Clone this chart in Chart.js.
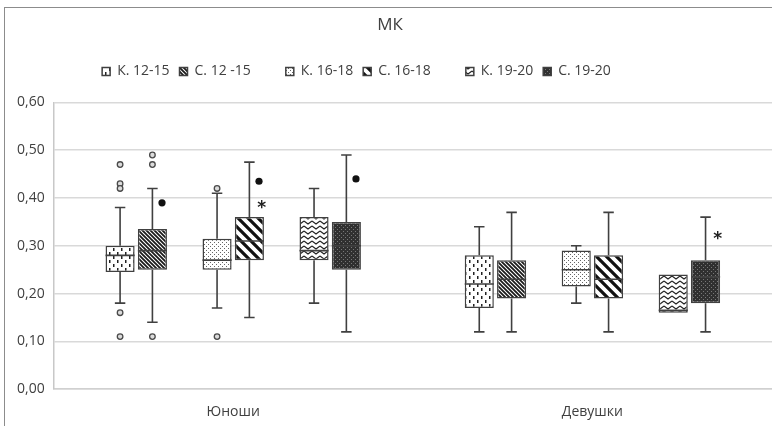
<!DOCTYPE html>
<html>
<head>
<meta charset="utf-8">
<script src="https://cdn.jsdelivr.net/npm/chart.js@4.4.1/dist/chart.umd.min.js"></script>
<style>
  html, body { margin: 0; padding: 0; background: #fff; }
  #wrap { position: relative; width: 772px; height: 426px; }
  #frame { position: absolute; left: 4px; top: 7px; right: 0; bottom: 0;
           border-left: 1px solid #8c8c8c; border-top: 1px solid #8c8c8c; }
  canvas { position: absolute; left: 0; top: 0; }
</style>
</head>
<body>
<div id="wrap">
  <div id="frame"></div>
  <canvas id="mkChart" width="772" height="426"></canvas>
</div>
<script>
const categories = ["Юноши", "Девушки"];
const seriesLabels = ["К. 12-15", "С. 12 -15", "К. 16-18", "С. 16-18", "К. 19-20", "С. 19-20"];

// one row per series, values for [Юноши, Девушки]
const whiskerLow  = [[0.18, 0.12], [0.14, 0.12], [0.17, 0.18], [0.15, 0.12], [0.18, 0.16], [0.12, 0.12]];
const boxLow      = [[0.245, 0.17], [0.25, 0.19], [0.25, 0.215], [0.27, 0.19], [0.27, 0.16], [0.25, 0.18]];
const medians     = [[0.28, 0.22], [0.29, 0.23], [0.27, 0.25], [0.31, 0.23], [0.29, 0.165], [0.30, 0.235]];
const boxHigh     = [[0.30, 0.28], [0.335, 0.27], [0.315, 0.29], [0.36, 0.28], [0.36, 0.24], [0.35, 0.27]];
const whiskerHigh = [[0.38, 0.34], [0.42, 0.37], [0.41, 0.30], [0.475, 0.37], [0.42, 0.24], [0.49, 0.36]];

const outliers = [
  [[0.47, 0.43, 0.42, 0.16, 0.11], []],
  [[0.49, 0.47, 0.11], []],
  [[0.42, 0.11], []],
  [[], []],
  [[], []],
  [[], []]
];
const dotMarks  = [[null, null], [0.39, null], [null, null], [0.435, null], [null, null], [0.44, null]];
const starMarks = [[null, null], [null, null], [null, null], [0.39, null], [null, null], [null, 0.325]];

const yMin = 0, yMax = 0.6, yStep = 0.1;

// fill patterns, one per series
function makePattern(w, h, draw) {
  const c = document.createElement("canvas");
  c.width = w; c.height = h;
  const g = c.getContext("2d");
  g.fillStyle = "#fff";
  g.fillRect(0, 0, w, h);
  draw(g, w, h);
  return g.createPattern(c, "repeat");
}
function diagLines(g, w, h) {
  g.beginPath();
  g.moveTo(-w, -h); g.lineTo(2 * w, 2 * h);
  g.moveTo(-w, 0); g.lineTo(w, 2 * h);
  g.moveTo(0, -h); g.lineTo(2 * w, h);
  g.stroke();
}
const patterns = [
  makePattern(8, 8, g => {
    g.fillStyle = "#222";
    g.fillRect(1, 0, 1.5, 3);
    g.fillRect(5, 4, 1.5, 3);
  }),
  makePattern(4, 4, (g, w, h) => {
    g.strokeStyle = "#1a1a1a"; g.lineWidth = 1.8;
    diagLines(g, w, h);
  }),
  makePattern(4, 4, g => {
    g.fillStyle = "#666";
    g.fillRect(0, 0, 1, 1);
    g.fillRect(2, 2, 1, 1);
  }),
  makePattern(10, 10, (g, w, h) => {
    g.strokeStyle = "#111"; g.lineWidth = 3.2;
    diagLines(g, w, h);
  }),
  makePattern(8, 5, g => {
    g.strokeStyle = "#222"; g.lineWidth = 1.1;
    g.beginPath();
    g.moveTo(0, 1); g.lineTo(4, 4); g.lineTo(8, 1);
    g.stroke();
  }),
  makePattern(4, 4, g => {
    g.fillStyle = "#303030";
    g.fillRect(0, 0, 4, 4);
    g.fillStyle = "#777";
    g.fillRect(1, 1, 1, 1);
    g.fillRect(3, 3, 1, 1);
  })
];

// boxes as floating bars; empty datasets keep the gaps between the age pairs
const datasets = [];
seriesLabels.forEach((label, s) => {
  if (s === 2 || s === 4) {
    datasets.push({ label: "", data: categories.map(() => null),
                    backgroundColor: "transparent", borderColor: "transparent", borderWidth: 0 });
  }
  datasets.push({
    label: label,
    seriesIndex: s,
    data: categories.map((_, c) => [boxLow[s][c], boxHigh[s][c]]),
    backgroundColor: patterns[s],
    borderColor: "#404040",
    borderWidth: 1.5,
    borderSkipped: false
  });
});

const boxParts = {
  id: "boxParts",
  afterDatasetsDraw(chart) {
    const ctx = chart.ctx;
    const y = chart.scales.y;
    ctx.save();
    chart.data.datasets.forEach((ds, di) => {
      if (ds.seriesIndex === undefined) return;
      const s = ds.seriesIndex;
      chart.getDatasetMeta(di).data.forEach((bar, c) => {
        const x = bar.x, w = bar.width, half = w / 2, cap = w * 0.18;
        const yq1 = y.getPixelForValue(boxLow[s][c]);
        const yq3 = y.getPixelForValue(boxHigh[s][c]);
        const ylo = y.getPixelForValue(whiskerLow[s][c]);
        const yhi = y.getPixelForValue(whiskerHigh[s][c]);
        const ymd = y.getPixelForValue(medians[s][c]);

        ctx.strokeStyle = "#404040";
        ctx.lineWidth = 1.6;
        ctx.beginPath();
        if (yhi < yq3 - 0.5) {
          ctx.moveTo(x, yq3); ctx.lineTo(x, yhi);
          ctx.moveTo(x - cap, yhi); ctx.lineTo(x + cap, yhi);
        }
        if (ylo > yq1 + 0.5) {
          ctx.moveTo(x, yq1); ctx.lineTo(x, ylo);
          ctx.moveTo(x - cap, ylo); ctx.lineTo(x + cap, ylo);
        }
        ctx.moveTo(x - half, ymd); ctx.lineTo(x + half, ymd);
        ctx.stroke();

        outliers[s][c].forEach(v => {
          ctx.beginPath();
          ctx.arc(x, y.getPixelForValue(v), 2.8, 0, Math.PI * 2);
          ctx.fillStyle = "#dcdcdc";
          ctx.fill();
          ctx.lineWidth = 1.3;
          ctx.strokeStyle = "#4a4a4a";
          ctx.stroke();
        });

        if (dotMarks[s][c] !== null) {
          ctx.beginPath();
          ctx.arc(x + w * 0.33, y.getPixelForValue(dotMarks[s][c]), 3.6, 0, Math.PI * 2);
          ctx.fillStyle = "#111";
          ctx.fill();
        }
        if (starMarks[s][c] !== null) {
          ctx.fillStyle = "#222";
          ctx.font = "bold 17px 'DejaVu Sans'";
          ctx.textAlign = "center";
          ctx.textBaseline = "alphabetic";
          ctx.fillText("*", x + w * 0.42, y.getPixelForValue(starMarks[s][c]) + 10);
        }
      });
    });
    ctx.restore();
  }
};

const legendGap = {
  id: "legendGap",
  beforeInit(chart) {
    const fit = chart.legend.fit;
    chart.legend.fit = function () {
      fit.call(this);
      this.height += 14;
    };
  }
};

const textColor = "#404040";
const baseFont = "'Open Sans', 'Noto Sans', sans-serif";

new Chart(document.getElementById("mkChart").getContext("2d"), {
  type: "bar",
  data: { labels: categories, datasets: datasets },
  options: {
    responsive: false,
    animation: false,
    events: [],
    categoryPercentage: 0.72,
    barPercentage: 0.9,
    layout: { padding: { left: 8, right: 0, top: 0, bottom: 0 } },
    scales: {
      x: {
        grid: { display: false },
        border: { display: true, color: "#d0d0d0", width: 1.5 },
        ticks: { color: textColor, font: { family: baseFont, size: 14 }, padding: 6 }
      },
      y: {
        min: yMin,
        max: yMax,
        ticks: {
          stepSize: yStep,
          color: textColor,
          font: { family: baseFont, size: 14 },
          padding: 9,
          callback: v => v.toFixed(2).replace(".", ",")
        },
        grid: { color: "#d9d9d9", lineWidth: 1.5, drawTicks: false },
        border: { display: true, color: "#c8c8c8", width: 1.5 }
      }
    },
    plugins: {
      tooltip: { enabled: false },
      title: {
        display: true,
        text: "МК",
        color: textColor,
        font: { family: baseFont, size: 17, weight: "normal" },
        padding: { top: 15, bottom: 19 }
      },
      legend: {
        position: "top",
        labels: {
          color: textColor,
          font: { family: baseFont, size: 14 },
          boxWidth: 8,
          boxHeight: 8,
          padding: 10,
          generateLabels(chart) {
            const items = Chart.defaults.plugins.legend.labels.generateLabels(chart);
            // blank trailing item: the original legend sits left of centre
            items.push({ text: "\u2003\u2003\u2003", fillStyle: "transparent",
                         strokeStyle: "transparent", lineWidth: 0, hidden: false, datasetIndex: -1 });
            return items;
          }
        }
      }
    }
  },
  plugins: [boxParts, legendGap]
});
</script>
</body>
</html>
